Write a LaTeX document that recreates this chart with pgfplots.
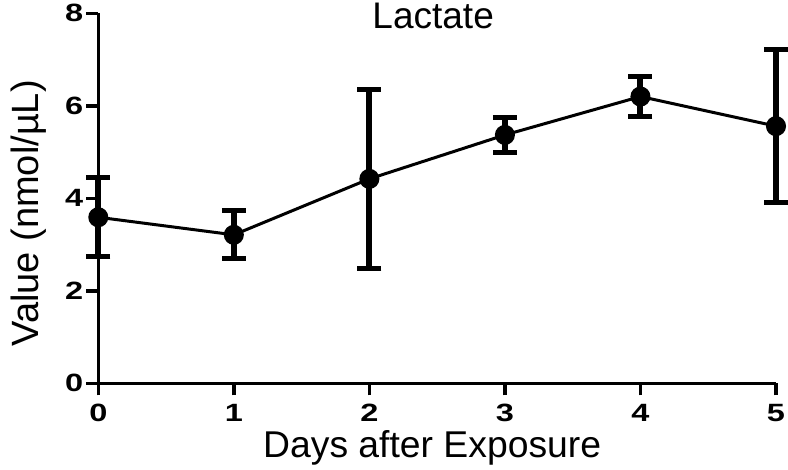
\documentclass[border=0pt]{standalone}
\usepackage{pgfplots}
\pgfplotsset{compat=1.18}
\usepackage{graphicx}
\usepackage{fontspec}
\setmainfont{Liberation Sans}
\newcommand\tl[1]{\scalebox{1.3}[1]{\fontsize{25bp}{25bp}\selectfont\bfseries #1}}
\begin{document}
\begin{tikzpicture}
\useasboundingbox (0,0) rectangle (788bp,470bp);
\begin{axis}[
  at={(98.3bp,86.7bp)}, anchor=south west,
  scale only axis, width=677.7bp, height=370bp,
  xmin=0, xmax=5, ymin=0, ymax=8,
  clip=false,
  axis lines=left,
  axis line style={-, line width=3.5bp},
  xtick={0,1,2,3,4,5}, ytick={0,2,4,6,8},
  xticklabels={\tl{0},\tl{1},\tl{2},\tl{3},\tl{4},\tl{5}},
  yticklabels={\tl{0},\tl{2},\tl{4},\tl{6},\tl{8}},
  tick align=outside,
  major tick length=12bp,
  tick style={line width=3.5bp, black},
  xticklabel style={anchor=north, inner sep=0pt, yshift=-9bp},
  yticklabel style={anchor=east, inner sep=0pt, xshift=-3bp},
]
\addplot[black, line width=3bp, mark=*, mark size=8.5bp, mark options={solid, fill=black},
  error bars/.cd, y dir=both, y explicit,
  error bar style={line width=6bp, black},
  error mark options={rotate=90, mark size=12bp, line width=5bp, black}]
  table[x=x, y=y, y error=e] {
x y e
0 3.59 0.85
1 3.21 0.52
2 4.42 1.94
3 5.37 0.37
4 6.20 0.43
5 5.56 1.66
};
\node[font=\fontsize{37bp}{37bp}\selectfont, anchor=base, inner sep=0pt] at ([xshift=-4bp, yshift=-15bp]axis description cs:0.5,1) {Lactate};
\node[font=\fontsize{37.3bp}{37.3bp}\selectfont, anchor=base, inner sep=0pt] at ([xshift=-5bp, yshift=-73.7bp]axis description cs:0.5,0) {Days after Exposure};
\node[font=\fontsize{38bp}{38bp}\selectfont, anchor=center, inner sep=0pt, rotate=90] at ([xshift=-70bp, yshift=-15bp]axis description cs:0,0.5) {Value (nmol/\textmu L)};
\end{axis}
\end{tikzpicture}
\end{document}
